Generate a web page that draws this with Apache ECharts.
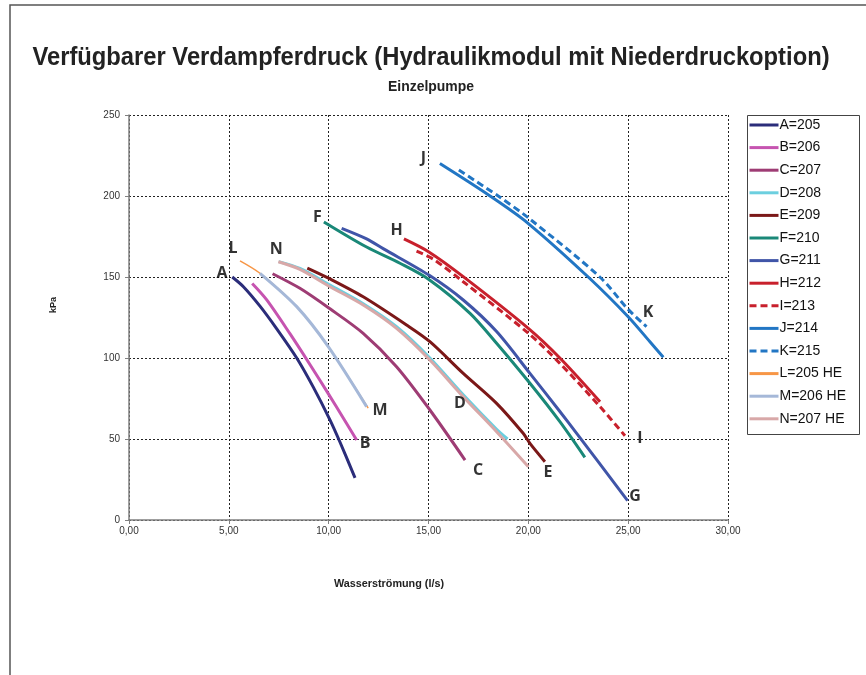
<!DOCTYPE html>
<html>
<head>
<meta charset="utf-8">
<script src="https://cdn.jsdelivr.net/npm/echarts@6/dist/echarts.min.js"></script>
<style>
  html, body { margin: 0; padding: 0; background: #fff; }
  #chart { width: 866px; height: 675px; }
</style>
</head>
<body>
<div id="chart"></div>
<script>
// Pump curves: available evaporator pressure (kPa) over water flow (l/s)
const xTicks = [0, 5, 10, 15, 20, 25, 30];
const yTicks = [0, 50, 100, 150, 200, 250];

const seriesNames = ['A=205', 'B=206', 'C=207', 'D=208', 'E=209', 'F=210', 'G=211',
  'H=212', 'I=213', 'J=214', 'K=215', 'L=205 HE', 'M=206 HE', 'N=207 HE'];

const flowA = [5.17, 5.73, 6.56, 7.40, 8.40, 9.23, 10.07, 10.57, 11.32];
const kpaA  = [150, 144, 132, 118, 100, 82, 61.7, 48, 26];

const flowB = [6.17, 6.89, 8.06, 9.06, 9.98, 10.73, 11.40];
const kpaB  = [146, 136, 115, 96, 78, 63, 49.4];

const flowC = [7.19, 8.56, 10.05, 11.73, 13.4, 15.07, 16.83];
const kpaC  = [152, 143, 130.5, 115.2, 94.6, 67.9, 37];

const flowD = [7.5, 8.56, 10.07, 11.73, 13.4, 15.07, 16.74, 18.41, 18.96];
const kpaD  = [159.5, 155.3, 145, 133.5, 119.3, 100, 77.3, 56, 50];

const flowE = [8.93, 10.07, 11.73, 13.9, 15.07, 16.74, 18.41, 19.74, 20.08, 20.83];
const kpaE  = [155.5, 148.8, 137.8, 120.4, 110.1, 90.5, 72, 53.5, 47.3, 36];

const flowF = [9.76, 11.9, 13.57, 15.02, 17.08, 18.41, 20.08, 21.58, 22.83];
const kpaF  = [184, 168.5, 158.5, 148.5, 127.6, 109.1, 84.4, 60.7, 38.7];

const flowG = [10.65, 11.9, 12.73, 15.02, 16.74, 18.41, 20.08, 21.58, 22.42, 24.97];
const kpaG  = [180, 173.5, 167.5, 151.2, 135.8, 116.3, 90.5, 67, 53.5, 12];

const flowH = [13.77, 15.0, 16.74, 20.0, 21.58, 23.59];
const kpaH  = [173.5, 165.6, 150.2, 118.3, 100, 73];

const flowI = [14.4, 15.24, 16.74, 20.0, 21.58, 23.59, 24.84];
const kpaI  = [166, 161, 147.1, 115.3, 96.7, 70, 52];

const flowJ = [15.57, 18.08, 20.0, 23.0, 25.0, 26.09, 26.76];
const kpaJ  = [220, 200, 183, 150, 125.5, 110, 100.4];

const flowK = [16.52, 18.49, 20.0, 23.58, 25.0, 25.92];
const kpaK  = [216, 200, 186.5, 150, 130, 119.3];

const flowL = [5.56, 6.56, 8.4, 9.98, 11.98];
const kpaL  = [160, 152.3, 131.7, 107, 69];

const flowM = [6.56, 8.4, 9.98, 11.9];
const kpaM  = [152.3, 131.7, 107, 70];

const flowN = [7.48, 8.56, 10.07, 11.73, 13.4, 15.07, 16.74, 18.41, 20.0];
const kpaN  = [159.4, 154.7, 144, 132.7, 118.3, 98.8, 76.1, 54.5, 32.9];

// Curve letters placed beside the curves, in axis units
const tagLetters = ['A', 'B', 'C', 'D', 'E', 'F', 'G', 'H', 'I', 'J', 'K', 'L', 'M', 'N'];
const tagFlow = [4.66, 11.82, 17.48, 16.57, 20.98, 9.43, 25.34, 13.40, 25.59, 14.74, 26.00, 5.21, 12.57, 7.38];
const tagKpa  = [152.5, 47.5, 30.9, 72.2, 29.6, 186.5, 14.5, 179, 50.6, 223, 128.4, 167.9, 67.9, 167.3];

const flows = [flowA, flowB, flowC, flowD, flowE, flowF, flowG, flowH, flowI, flowJ, flowK, flowL, flowM, flowN];
const kpas  = [kpaA, kpaB, kpaC, kpaD, kpaE, kpaF, kpaG, kpaH, kpaI, kpaJ, kpaK, kpaL, kpaM, kpaN];

const colors = ['#2B2D7A', '#C654B0', '#9E3C74', '#6CCFDF', '#7B1818', '#1A8878', '#4055A8',
  '#C8202C', '#C8202C', '#2276C4', '#2276C4', '#F79646', '#A5B8D8', '#D8A8A8'];
const widths = [3, 3, 3, 3, 3, 3, 3, 3, 3, 3, 3, 1.5, 3, 3];
const dashed = [false, false, false, false, false, false, false, false, true, false, true, false, false, false];

const chart = echarts.init(document.getElementById('chart'));

const lineSeries = seriesNames.map((name, i) => ({
  name: name,
  type: 'line',
  data: flows[i].map((f, j) => [f, kpas[i][j]]),
  smooth: 0.3,
  symbol: 'none',
  showSymbol: false,
  color: colors[i],
  lineStyle: {
    color: colors[i],
    width: widths[i],
    type: dashed[i] ? [7, 4] : 'solid'
  },
  z: 3
}));

const tagSeries = {
  type: 'scatter',
  name: 'tags',
  symbolSize: 0,
  silent: true,
  data: tagLetters.map((t, i) => ({ value: [tagFlow[i], tagKpa[i]], name: t })),
  label: {
    show: true,
    position: 'inside',
    formatter: p => p.name,
    color: '#000',
    fontFamily: '"Open Sans", Lato, "Liberation Sans", sans-serif',
    fontWeight: 'bold',
    fontSize: 16
  },
  z: 5
};

const fmt = v => v.toFixed(2).replace('.', ',');

chart.setOption({
  animation: false,
  backgroundColor: '#fff',
  grid: { left: 129, right: 138, top: 115, bottom: 155, containLabel: false },
  xAxis: {
    type: 'value',
    min: xTicks[0],
    max: xTicks[xTicks.length - 1],
    interval: xTicks[1] - xTicks[0],
    axisLine: { show: true, onZero: false, lineStyle: { color: '#808080', width: 1.5 } },
    axisTick: { show: true, length: 4, lineStyle: { color: '#808080' } },
    axisLabel: {
      formatter: fmt, color: '#333', fontSize: 10, margin: 6,
      fontFamily: '"Liberation Sans", Arial, sans-serif'
    },
    splitLine: { show: true, lineStyle: { color: '#222', width: 1, type: [2, 2] } }
  },
  yAxis: {
    type: 'value',
    min: yTicks[0],
    max: yTicks[yTicks.length - 1],
    interval: yTicks[1] - yTicks[0],
    axisLine: { show: true, lineStyle: { color: '#808080', width: 1.5 } },
    axisTick: { show: true, length: 4, lineStyle: { color: '#808080' } },
    axisLabel: {
      color: '#333', fontSize: 10, margin: 9,
      fontFamily: '"Liberation Sans", Arial, sans-serif'
    },
    splitLine: { show: true, lineStyle: { color: '#222', width: 1, type: [2, 2] } }
  },
  legend: {
    data: seriesNames,
    orient: 'vertical',
    left: 748,
    top: 118,
    itemWidth: 29,
    itemHeight: 12,
    itemGap: 8.6,
    padding: 0,
    itemStyle: { opacity: 0 },
    lineStyle: { width: 3 },
    textStyle: {
      fontFamily: '"Liberation Sans", Arial, sans-serif',
      fontSize: 14, color: '#111', padding: [0, 0, 0, -4]
    }
  },
  graphic: [
    {
      type: 'text',
      x: 431, y: 58,
      scaleX: 0.95,
      style: {
        text: 'Verfügbarer Verdampferdruck (Hydraulikmodul mit Niederdruckoption)',
        fill: '#222',
        font: 'bold 25px "Liberation Sans", Arial, sans-serif',
        textAlign: 'center',
        textVerticalAlign: 'middle'
      }
    },
    {
      type: 'text',
      x: 431, y: 87,
      scaleX: 0.93,
      style: {
        text: 'Einzelpumpe',
        fill: '#222',
        font: 'bold 15px "Liberation Sans", Arial, sans-serif',
        textAlign: 'center',
        textVerticalAlign: 'middle'
      }
    },
    {
      type: 'rect',
      left: 745, top: 113,
      shape: { width: 112, height: 319 },
      style: { fill: 'none', stroke: '#444', lineWidth: 1 },
      silent: true
    },
    {
      type: 'polyline',
      shape: { points: [[10, 675], [10, 5], [866, 5]] },
      style: { fill: 'none', stroke: '#555', lineWidth: 1.5 },
      silent: true
    },
    {
      type: 'text',
      x: 389, y: 584,
      style: {
        text: 'Wasserströmung (l/s)',
        fill: '#222',
        font: 'bold 10.8px "Liberation Sans", Arial, sans-serif',
        textAlign: 'center',
        textVerticalAlign: 'middle'
      }
    },
    {
      type: 'text',
      x: 54, y: 305,
      rotation: Math.PI / 2,
      style: {
        text: 'kPa',
        fill: '#222',
        font: 'bold 9px "Liberation Sans", Arial, sans-serif',
        textAlign: 'center',
        textVerticalAlign: 'middle'
      }
    }
  ],
  series: lineSeries.concat([tagSeries])
});
</script>
</body>
</html>
